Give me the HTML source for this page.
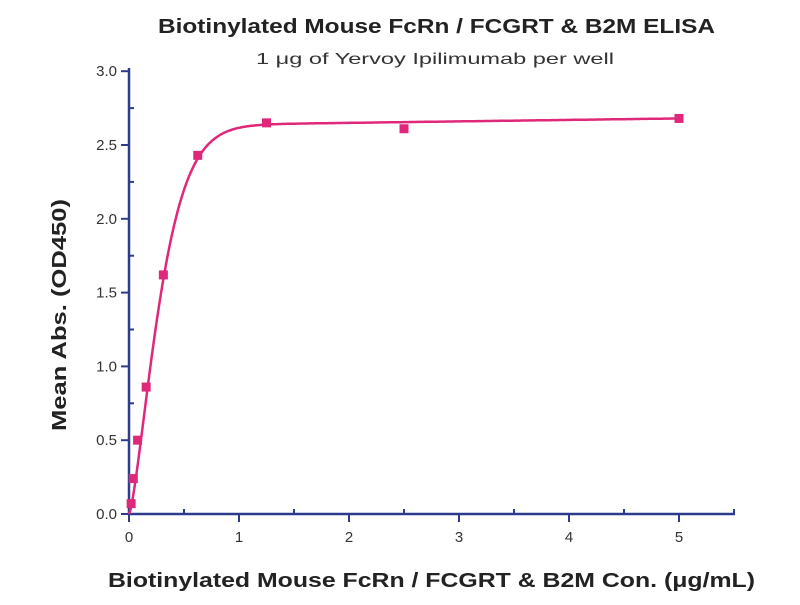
<!DOCTYPE html>
<html><head><meta charset="utf-8"><style>
body{margin:0;background:#fff;width:800px;height:600px;overflow:hidden}
svg text{font-family:"Liberation Sans",sans-serif}
</style></head><body>
<svg id="s" width="800" height="600" xmlns="http://www.w3.org/2000/svg">
<text x="158" y="33" textLength="557" lengthAdjust="spacingAndGlyphs" font-size="20" font-weight="bold" fill="#222">Biotinylated Mouse FcRn / FCGRT &amp; B2M ELISA</text>
<text x="256" y="64" textLength="358" lengthAdjust="spacingAndGlyphs" font-size="16" fill="#333">1 μg of Yervoy Ipilimumab per well</text>
<text x="108" y="587" textLength="647" lengthAdjust="spacingAndGlyphs" font-size="20" font-weight="bold" fill="#222">Biotinylated Mouse FcRn / FCGRT &amp; B2M Con. (μg/mL)</text>
<text transform="translate(66,431) rotate(-90)" textLength="232" lengthAdjust="spacingAndGlyphs" font-size="20" font-weight="bold" fill="#222">Mean Abs. (OD450)</text>
<g stroke="#2e3a8c" stroke-width="2.5" fill="none">
<line x1="129" y1="68" x2="129" y2="514"/>
<line x1="128" y1="514" x2="735" y2="514"/>
</g>
<g id="ticks" stroke="#2e3a8c" stroke-width="2"></g>
<g id="lab" font-size="15" fill="#333"></g>
<path id="c" fill="none" stroke="#e0287a" stroke-width="2.5"/>
<g id="pts" fill="#e0287a"></g>
</svg>
<script>
var X=function(x){return 129+110*x},Y=function(y){return 514-147.6*y};
var t=document.getElementById('ticks'),l=document.getElementById('lab'),h='',lh='';
for(var i=0;i<=6;i++){var y=Y(i*0.5);h+='<line x1="121" y1="'+y+'" x2="129" y2="'+y+'"/>';lh+='<text x="117" y="'+(y+5)+'" text-anchor="end">'+(i*0.5).toFixed(1)+'</text>';}
for(var i=0;i<6;i++){var y=Y(i*0.5+0.25);h+='<line x1="129" y1="'+y+'" x2="134" y2="'+y+'"/>';}
for(var i=0;i<=5;i++){var x=X(i);h+='<line x1="'+x+'" y1="514" x2="'+x+'" y2="522"/>';lh+='<text x="'+x+'" y="542" text-anchor="middle">'+i+'</text>';}
for(var i=0;i<6;i++){var x=X(i+0.5);h+='<line x1="'+x+'" y1="509" x2="'+x+'" y2="514"/>';}
t.innerHTML=h;l.innerHTML=lh;
var d='';for(var x=0;x<=5.001;x+=0.01){var y=2.63*(1-Math.exp(-Math.pow(x/0.33,1.4)))+0.01*x;d+=(d?'L':'M')+X(x).toFixed(1)+','+Y(y).toFixed(1);}
document.getElementById('c').setAttribute('d',d);
var P=[[0.0195,0.07],[0.039,0.24],[0.078,0.5],[0.156,0.86],[0.3125,1.62],[0.625,2.43],[1.25,2.65],[2.5,2.61],[5,2.68]],p='';
P.forEach(function(q){p+='<rect x="'+(X(q[0])-4.5)+'" y="'+(Y(q[1])-4.5)+'" width="9" height="9"/>';});
document.getElementById('pts').innerHTML=p;
</script>
</body></html>
